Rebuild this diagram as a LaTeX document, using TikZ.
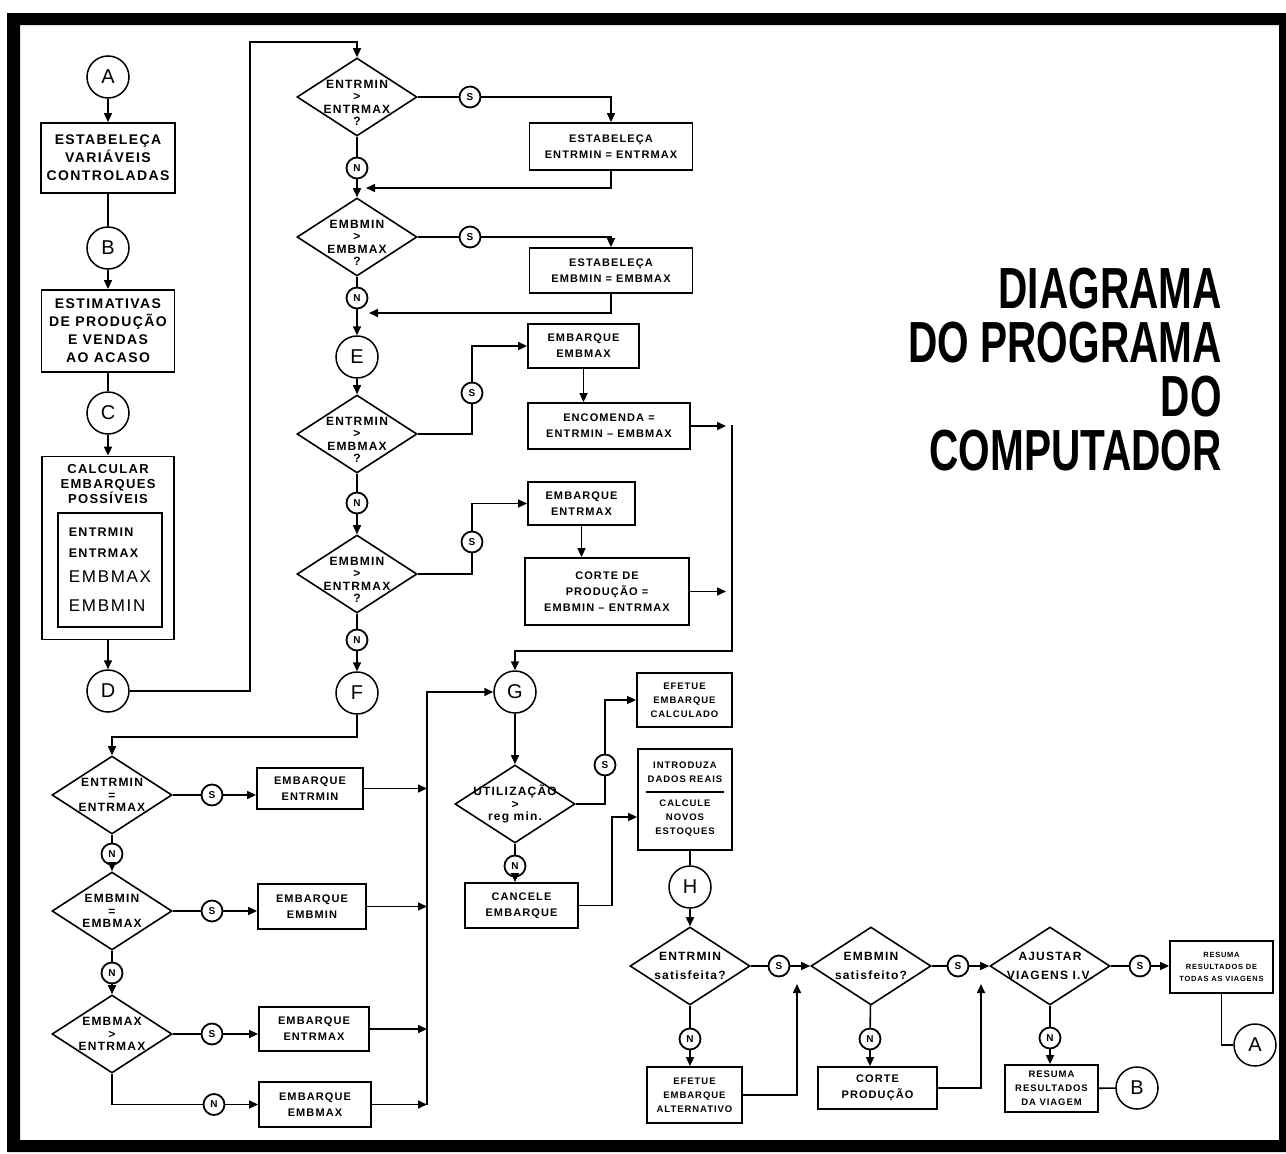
\documentclass[tikz,border=0pt]{standalone}
\usepackage{fontspec}
\usetikzlibrary{shapes.geometric,arrows.meta}
\newfontfamily\boxfont[LetterSpace=10]{Liberation Sans}
\newfontfamily\titlefont[FakeStretch=0.70]{Liberation Sans}
\newcommand\fbig{\boxfont\bfseries\fontsize{14}{18}\selectfont}
\newcommand\fcalc{\boxfont\bfseries\fontsize{13}{15}\selectfont}
\newcommand\fmed{\boxfont\bfseries\fontsize{11}{16}\selectfont}
\newcommand\fsml{\boxfont\bfseries\fontsize{9.5}{14}\selectfont}
\newcommand\ftiny{\boxfont\bfseries\fontsize{7.5}{12}\selectfont}
\newcommand\fdec{\boxfont\bfseries\fontsize{12}{12.5}\selectfont}
\newcommand\fvar{\boxfont\bfseries\fontsize{12.5}{16}\selectfont}
\newcommand\fcon{\boxfont\fontsize{20}{20}\selectfont}
\newcommand\fsn{\boxfont\bfseries\fontsize{10}{10}\selectfont}
\begin{document}
\begin{tikzpicture}[x=1pt,y=-1pt,
	proc/.style={draw,line width=1.8pt,rectangle,align=center,inner sep=1pt,font=\fmed},
	decshape/.style={draw,line width=1.6pt,diamond,minimum width=120pt,minimum height=78pt,
			inner sep=0pt},
	dtext/.style={align=center,font=\fdec},
	dec/.style={decshape,label={[dtext]center:#1}},
	qdec/.style={decshape,label={[dtext,yshift=-6pt]center:#1}},
	con/.style={draw,line width=1.5pt,circle,minimum size=42pt,inner sep=0pt,font=\fcon},
	sn/.style={draw,line width=1.8pt,circle,minimum size=21pt,inner sep=0pt,font=\fsn},
	ln/.style={line width=1.6pt},
	arr/.style={ln,-{Triangle[length=9pt,width=8pt]}}]
	\useasboundingbox (0,0) rectangle (1286,1154);
	\fill[even odd rule] (7,13) rectangle (1286,1152) (20,25) rectangle (1279,1140);

	\node[anchor=north east,align=right,inner sep=0pt,
		font=\titlefont\bfseries\fontsize{58}{54}\selectfont] (title) at (1222,268)
		{DIAGRAMA\\DO PROGRAMA\\DO\\COMPUTADOR};

	% column 1
	\node[con] (A1) at (108,77) {A};
	\node[proc,font=\fbig,minimum width=134pt,minimum height=70pt] (est) at (108,158)
		{ESTABELEÇA\\VARIÁVEIS\\CONTROLADAS};
	\node[con] (B1) at (108,248) {B};
	\node[proc,font=\fbig,minimum width=133pt,minimum height=82pt] (estim) at (108,331)
		{ESTIMATIVAS\\DE PRODUÇÃO\\E VENDAS\\AO ACASO};
	\node[con] (C1) at (108,413) {C};
	\node[proc,minimum width=132pt,minimum height=183pt] (calc) at (108,548) {};
	\node[font=\fcalc,align=center,anchor=north,inner sep=0pt] (calctxt) at (108,464)
		{CALCULAR\\EMBARQUES\\POSSÍVEIS};
	\node[proc,align=left,inner sep=6pt,minimum width=104pt,minimum height=114pt,
		font=\boxfont\fontsize{17}{21}\selectfont] (vars) at (110,570)
		{{\fvar ENTRMIN}\\{\fvar ENTRMAX}\\[4pt]EMBMAX\\[8pt]EMBMIN};
	\node[con] (D1) at (108,691) {D};

	% column 2
	\coordinate (k1) at (250,42);
	\node[qdec={ENTRMIN\\>\\ENTRMAX\\?}] (d1) at (357,97) {};
	\node[sn] (n1) at (357,168) {N};
	\node[qdec={EMBMIN\\>\\EMBMAX\\?}] (d2) at (357,237) {};
	\node[sn] (n2) at (357,298) {N};
	\node[con] (E) at (357,357) {E};
	\node[qdec={ENTRMIN\\>\\EMBMAX\\?}] (d3) at (357,434) {};
	\node[sn] (n3) at (357,503) {N};
	\node[qdec={EMBMIN\\>\\ENTRMAX\\?}] (d4) at (357,574) {};
	\node[sn] (n4) at (357,640) {N};
	\node[con] (F) at (357,693) {F};
	\coordinate (j1) at (357,188);
	\coordinate (j2) at (357,313);

	\node[sn] (s1) at (470,97) {S};
	\node[sn] (s2) at (470,237) {S};
	\node[proc,minimum width=163pt,minimum height=47pt] (setentr) at (611,146.5)
		{ESTABELEÇA\\ENTRMIN {=} ENTRMAX};
	\node[proc,minimum width=163pt,minimum height=45pt] (setemb) at (611,270.5)
		{ESTABELEÇA\\EMBMIN {=} EMBMAX};

	\node[sn] (s3) at (472,393) {S};
	\node[sn] (s4) at (472,542) {S};
	\node[proc,minimum width=111pt,minimum height=44pt] (embmax1) at (583.5,346)
		{EMBARQUE\\EMBMAX};
	\node[proc,minimum width=162pt,minimum height=46pt] (encom) at (609,426)
		{ENCOMENDA {=}\\ENTRMIN – EMBMAX};
	\node[proc,minimum width=107pt,minimum height=43pt] (embentr1) at (581.5,503.5)
		{EMBARQUE\\ENTRMAX};
	\node[proc,minimum width=164pt,minimum height=67pt] (corte1) at (607,591.5)
		{CORTE DE\\PRODUÇÃO {=}\\EMBMIN – ENTRMAX};
	\coordinate (bt) at (732,425);
	\coordinate (bb) at (732,651);

	% lower left
	\coordinate (k2) at (357,737);
	\node[dec={ENTRMIN\\{=}\\ENTRMAX}] (d5) at (112,795) {};
	\node[sn] (n5) at (112,854) {N};
	\node[dec={EMBMIN\\{=}\\EMBMAX}] (d6) at (112,911) {};
	\node[sn] (n6) at (112,973) {N};
	\node[dec={EMBMAX\\>\\ENTRMAX}] (d7) at (112,1034) {};
	\node[sn] (s5) at (212,795) {S};
	\node[sn] (s6) at (212,911) {S};
	\node[sn] (s7) at (212,1034) {S};
	\node[sn] (n7) at (214,1104.5) {N};
	\node[proc,minimum width=106pt,minimum height=41pt] (e1) at (310,788.5) {EMBARQUE\\ENTRMIN};
	\node[proc,minimum width=108pt,minimum height=45pt] (e2) at (312,906.5) {EMBARQUE\\EMBMIN};
	\node[proc,minimum width=110pt,minimum height=44pt] (e3) at (314,1029) {EMBARQUE\\ENTRMAX};
	\node[proc,minimum width=112pt,minimum height=45pt] (e4) at (315,1104.5) {EMBARQUE\\EMBMAX};
	\coordinate (bl) at (427,1104.5);

	% G and H
	\node[con] (G) at (515,692) {G};
	\node[dec={UTILIZAÇÃO\\>\\reg min.}] (d8) at (515,804) {};
	\node[sn] (n8) at (515,866) {N};
	\node[sn] (s8) at (605,765) {S};
	\node[proc,font=\fmed,minimum width=113pt,minimum height=45pt] (cancel) at (521.5,905.5)
		{CANCELE\\EMBARQUE};
	\node[proc,font=\fsml,minimum width=95pt,minimum height=54pt] (efcalc) at (684.5,700)
		{EFETUE\\EMBARQUE\\CALCULADO};
	\node[proc,font=\fsml,minimum width=94pt,minimum height=101pt] (intro) at (685,799.5)
		{INTRODUZA\\DADOS REAIS\\[-4pt]\rule{78pt}{1.5pt}\\CALCULE\\NOVOS\\ESTOQUES};
	\coordinate (k3) at (612,817);
	\node[con] (H) at (690,887) {H};

	% bottom row
	\node[dec={ENTRMIN\\[6pt]satisfeita?}] (d9) at (690,966) {};
	\node[sn] (s9) at (779,966) {S};
	\node[dec={EMBMIN\\[6pt]satisfeito?}] (d10) at (871,966) {};
	\node[sn] (s10) at (958,966) {S};
	\node[dec={AJUSTAR\\[6pt]VIAGENS I.V.}] (d11) at (1050,966) {};
	\node[sn] (s11) at (1140,966) {S};
	\node[proc,font=\ftiny,minimum width=103pt,minimum height=52pt] (resall) at (1221.5,967)
		{RESUMA\\RESULTADOS DE\\TODAS AS VIAGENS};
	\node[con] (A2) at (1255,1045) {A};
	\node[sn] (n9) at (690,1039) {N};
	\node[sn] (n10) at (870,1039) {N};
	\node[sn] (n11) at (1050,1038) {N};
	\node[proc,font=\fsml,minimum width=95pt,minimum height=56pt] (efalt) at (694.5,1095)
		{EFETUE\\EMBARQUE\\ALTERNATIVO};
	\node[proc,minimum width=119pt,minimum height=42pt] (corte2) at (877.5,1088)
		{CORTE\\PRODUÇÃO};
	\node[proc,font=\fsml,minimum width=93pt,minimum height=47pt] (resv) at (1051.5,1088.5)
		{RESUMA\\RESULTADOS\\DA VIAGEM};
	\node[con] (B2) at (1137,1088) {B};
	\coordinate (k4) at (797,984);
	\coordinate (k5) at (981,984);

	% connectors
	\draw[arr] (A1) -- (est);
	\draw[ln] (est) -- (B1);
	\draw[arr] (B1) -- (estim);
	\draw[ln] (estim) -- (C1);
	\draw[arr] (C1) -- (calc);
	\draw[arr] (calc) -- (D1);
	\draw[arr] (D1) -| (k1) -| (d1);

	\draw[ln] (d1) -- (n1);
	\draw[arr] (n1) -- (d2);
	\draw[ln] (d1) -- (s1);
	\draw[arr] (s1) -| (setentr);
	\draw[arr,shorten >=9pt] (setentr) |- (j1);
	\draw[ln] (d2) -- (n2);
	\draw[arr] (n2) -- (E);
	\draw[ln] (d2) -- (s2);
	\draw[arr] (s2) -| (setemb);
	\draw[arr,shorten >=12pt] (setemb) |- (j2);

	\draw[arr] (E) -- (d3);
	\draw[ln] (d3) -| (s3);
	\draw[arr] (s3) |- (embmax1);
	\draw[arr] (embmax1) -- (embmax1.south |- encom.north);
	\draw[arr,shorten >=6pt] (encom) -- (encom -| bt);
	\draw[ln] (d3) -- (n3);
	\draw[arr] (n3) -- (d4);
	\draw[ln] (d4) -| (s4);
	\draw[arr] (s4) |- (embentr1);
	\draw[arr] (embentr1) -- (embentr1.south |- corte1.north);
	\draw[arr,shorten >=6pt] (corte1) -- (corte1 -| bt);
	\draw[ln] (d4) -- (n4);
	\draw[arr] (n4) -- (F);
	\draw[arr] (bt) -- (bb) -| (G);

	\draw[arr] (F) -- (k2) -| (d5);
	\draw[ln] (d5) -- (s5);
	\draw[arr] (s5) -- (s5 -| e1.west);
	\draw[arr] (e1) -- (e1 -| bl);
	\draw[ln] (d5) -- (n5);
	\draw[arr] (n5) -- (d6);
	\draw[ln] (d6) -- (s6);
	\draw[arr] (s6) -- (s6 -| e2.west);
	\draw[arr] (e2) -- (e2 -| bl);
	\draw[ln] (d6) -- (n6);
	\draw[arr] (n6) -- (d7);
	\draw[ln] (d7) -- (s7);
	\draw[arr] (s7) -- (s7 -| e3.west);
	\draw[arr] (e3) -- (e3 -| bl);
	\draw[ln] (d7) |- (n7);
	\draw[arr] (n7) -- (e4);
	\draw[arr] (e4) -- (bl);
	\draw[arr] (bl) |- (G);

	\draw[arr] (G) -- (d8);
	\draw[ln] (d8) -| (s8);
	\draw[arr] (s8) |- (efcalc);
	\draw[ln] (d8) -- (n8);
	\draw[arr] (n8) -- (n8 |- cancel.north);
	\draw[arr] (cancel) -| (k3) -- (k3 -| intro.west);
	\draw[ln] (intro.south -| H) -- (H);
	\draw[arr] (H) -- (d9);

	\draw[ln] (d9) -- (s9);
	\draw[arr] (s9) -- (d10);
	\draw[ln] (d10) -- (s10);
	\draw[arr] (s10) -- (d11);
	\draw[ln] (d11) -- (s11);
	\draw[arr] (s11) -- (s11 -| resall.west);
	\draw[ln] (resall) |- (A2);
	\draw[ln] (d9) -- (n9);
	\draw[arr] (n9) -- (n9 |- efalt.north);
	\draw[arr] (efalt) -| (k4);
	\draw[ln] (d10) -- (n10);
	\draw[arr] (n10) -- (n10 |- corte2.north);
	\draw[arr] (corte2) -| (k5);
	\draw[ln] (d11) -- (n11);
	\draw[arr] (n11) -- (n11 |- resv.north);
	\draw[ln] (resv) -- (B2);
\end{tikzpicture}
\end{document}
